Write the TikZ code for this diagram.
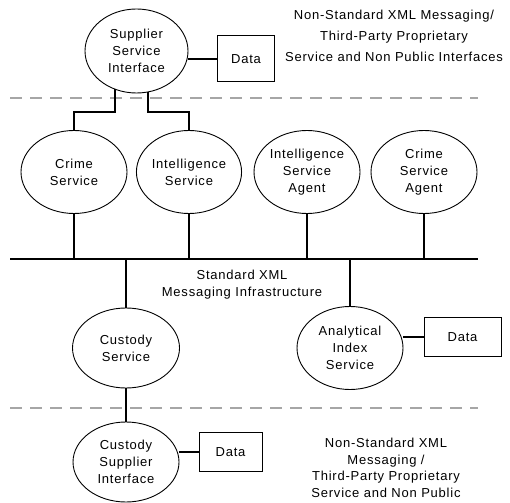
\documentclass[tikz,border=0pt]{standalone}
\usepackage{fontspec}
\setmainfont{Liberation Sans}[LetterSpace=6]
\usetikzlibrary{shapes.geometric}
\begin{document}
\begin{tikzpicture}[x=1pt,y=-1pt,
  ell/.style={draw,ellipse,line width=0.9pt,inner sep=0pt,align=center,
    font=\fontsize{13}{17}\selectfont},
  databox/.style={draw,rectangle,line width=1pt,inner sep=0pt,
    font=\fontsize{13}{17}\selectfont},
  conn/.style={line width=1.8pt},
  sep/.style={draw=gray!70,line width=2pt,dash pattern=on 12pt off 8pt},
  lbl/.style={align=center,inner sep=0pt}]
\useasboundingbox (0,0) rectangle (510,502);

% separators
\coordinate (s1a) at (10,98);
\coordinate (s1b) at (478,98);
\coordinate (s2a) at (10,408);
\coordinate (s2b) at (478,408);
\draw[sep] (s1a) -- (s1b);
\draw[sep] (s2a) -- (s2b);

% top
\node[ell,minimum width=103pt,minimum height=84pt] (sup) at (136.5,51) {Supplier\\Service\\Interface};
\node[databox,minimum width=57pt,minimum height=46pt] (d1) at (246,59) {Data};
\draw[conn] (sup.east |- d1.west) -- (d1.west);
\node[lbl,font=\fontsize{13}{21}\selectfont] (t1) at (394,36) {Non-Standard XML Messaging/\\Third-Party Proprietary\\Service and Non Public Interfaces};

% row of services
\node[ell,minimum width=106pt,minimum height=83pt] (cs) at (74,172) {Crime\\Service};
\node[ell,minimum width=103pt,minimum height=83pt] (is) at (189,172) {Intelligence\\Service};
\node[ell,minimum width=106pt,minimum height=83pt] (isa) at (307,172) {Intelligence\\Service\\Agent};
\node[ell,minimum width=106pt,minimum height=83pt] (csa) at (424,172) {Crime\\Service\\Agent};

\coordinate (j1) at (115,112);
\coordinate (j2) at (148,112);
\draw[conn] (sup.south -| j1) ++(0,-4) -- (j1) -| (cs.north);
\draw[conn] (sup.south -| j2) ++(0,-1) -- (j2) -| (is.north);

% bus
\coordinate (b1) at (10,259);
\coordinate (b2) at (478,259);
\draw[conn] (b1) -- (b2);
\foreach \n in {cs,is,isa,csa}{\draw[conn] (\n.south) -- (\n.south |- b1);}
\node[lbl,font=\fontsize{13}{17}\selectfont] (bl) at (242,285) {Standard XML\\Messaging Infrastructure};

% lower services
\node[ell,minimum width=107pt,minimum height=80pt] (cu) at (126,348) {Custody\\Service};
\node[ell,minimum width=106pt,minimum height=83pt] (ai) at (350,348) {Analytical\\Index\\Service};
\draw[conn] (cu.north |- b1) -- (cu.north);
\draw[conn] (ai.north |- b1) -- (ai.north);
\node[databox,minimum width=77pt,minimum height=39pt] (d2) at (462.5,337) {Data};
\draw[conn] (ai.east |- d2.west) -- (d2.west);

% bottom
\node[ell,minimum width=106pt,minimum height=80pt] (csi) at (126,462) {Custody\\Supplier\\Interface};
\draw[conn] (cu.south) -- (csi.north);
\node[databox,minimum width=63pt,minimum height=39pt] (d3) at (230.5,452) {Data};
\draw[conn] (csi.east |- d3.west) -- (d3.west);
\node[lbl,font=\fontsize{13}{16.5}\selectfont] (t2) at (386,468) {Non-Standard XML\\Messaging /\\Third-Party Proprietary\\Service and Non Public};
\end{tikzpicture}
\end{document}
